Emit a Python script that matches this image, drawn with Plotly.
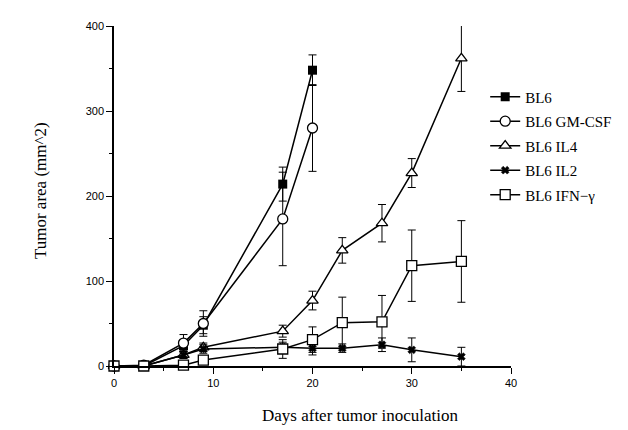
import plotly.graph_objects as go

days_short = [0, 3, 7, 9, 17, 20]
days_long = [0, 3, 7, 9, 17, 20, 23, 27, 30, 35]

bl6 = [0, 0, 24, 48, 214, 348]
bl6_err = [0, 0, 6, 10, 20, 18]

gmcsf = [0, 1, 27, 50, 173, 280]
gmcsf_err = [0, 0, 10, 15, 55, 51]

il4 = [0, 0, 13, 22, 41, 77, 136, 168, 227, 362]
il4_err = [0, 0, 4, 5, 7, 11, 15, 22, 17, 39]

il2 = [0, 0, 13, 20, 22, 21, 21, 25, 19, 11]
il2_err = [0, 0, 4, 5, 6, 8, 5, 8, 14, 11]

ifn = [0, 0, 1, 7, 20, 31, 51, 52, 118, 123]
ifn_err = [0, 0, 2, 5, 11, 15, 30, 31, 42, 48]

names = ["BL6", "BL6 GM-CSF", "BL6 IL4", "BL6 IL2", "BL6 IFN\u2212\u03b3"]

series = [
    (names[0], days_short, bl6, bl6_err, dict(symbol="square", size=9, color="black")),
    (names[1], days_short, gmcsf, gmcsf_err, dict(symbol="circle", size=10, color="white", line=dict(color="black", width=1.3))),
    (names[2], days_long, il4, il4_err, dict(symbol="triangle-up", size=10, color="white", line=dict(color="black", width=1.3))),
    (names[3], days_long, il2, il2_err, dict(symbol="x", size=7, color="black", line=dict(color="black", width=0.5))),
    (names[4], days_long, ifn, ifn_err, dict(symbol="square", size=10, color="white", line=dict(color="black", width=1.3))),
]

fig = go.Figure()
for i, (name, x, y, e, mk) in enumerate(series):
    fig.add_trace(go.Scatter(
        x=x, y=y, name=name, mode="lines+markers",
        line=dict(color="black", width=1.5),
        marker=mk,
        error_y=dict(type="data", array=e, visible=True, color="black", thickness=1, width=4),
        cliponaxis=False,
        legendgroup=f"g{i}",
    ))

serif = "Liberation Serif, Times New Roman, serif"
sans = "Liberation Sans, Arial, sans-serif"

fig.update_layout(
    width=628, height=430,
    margin=dict(l=106, r=125, t=12, b=72),
    paper_bgcolor="white", plot_bgcolor="white",
    showlegend=True,
    legend=dict(
        x=0.935, y=0.84, xanchor="left", yanchor="top",
        bgcolor="rgba(0,0,0,0)", font=dict(family=serif, size=15, color="black"),
        traceorder="grouped", tracegroupgap=2,
    ),
    xaxis=dict(
        range=[0, 40], showgrid=False, zeroline=False,
        showline=True, linecolor="black", linewidth=1.5,
        ticks="outside", ticklen=6, tickwidth=1.2, tickcolor="black",
        dtick=10, tick0=0,
        minor=dict(dtick=5, ticks="outside", ticklen=3, tickcolor="black", tickwidth=1),
        tickfont=dict(family=sans, size=11, color="black"),
    ),
    yaxis=dict(
        range=[0, 400], showgrid=False, zeroline=False,
        showline=True, linecolor="black", linewidth=1.5,
        ticks="outside", ticklen=6, tickwidth=1.2, tickcolor="black",
        dtick=100, tick0=0,
        minor=dict(dtick=50, ticks="outside", ticklen=3, tickcolor="black", tickwidth=1),
        tickfont=dict(family=sans, size=11, color="black"),
    ),
    annotations=[
        dict(text="Days after tumor inoculation", xref="paper", yref="paper",
             x=(352 - 106) / 397, y=-(408 - 358) / 346, xanchor="center", yanchor="middle",
             showarrow=False, font=dict(family=serif, size=17, color="black")),
        dict(text="Tumor area (mm^2)", xref="paper", yref="paper",
             x=-(106 - 32) / 397, y=(358 - 180) / 346, xanchor="center", yanchor="middle",
             textangle=-90, showarrow=False, font=dict(family=serif, size=17, color="black")),
    ],
)

fig.write_html("out.html")
